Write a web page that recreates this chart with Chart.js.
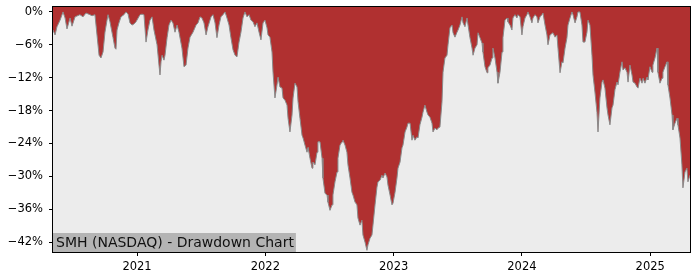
<!DOCTYPE html>
<html>
<head>
<meta charset="utf-8">
<script src="https://cdn.jsdelivr.net/npm/chart.js@4/dist/chart.umd.min.js"></script>
<style>
  html, body { margin: 0; padding: 0; background: #ffffff; }
  #wrap { width: 700px; height: 280px; }
</style>
</head>
<body>
<div id="wrap"><canvas id="ddChart" width="700" height="280"></canvas></div>
<script>
// drawdown series, date as decimal year, value in percent
const years = [
  2020.345, 2020.361, 2020.376, 2020.400, 2020.423, 2020.439, 2020.454, 2020.478, 2020.493, 2020.517,
  2020.555, 2020.579, 2020.602, 2020.633, 2020.649, 2020.672, 2020.688, 2020.704, 2020.719, 2020.735,
  2020.750, 2020.766, 2020.774, 2020.789, 2020.813, 2020.828, 2020.836, 2020.844, 2020.859, 2020.875,
  2020.898, 2020.914, 2020.930, 2020.945, 2020.961, 2020.976, 2020.992, 2021.023, 2021.039, 2021.054,
  2021.070, 2021.085, 2021.101, 2021.117, 2021.132, 2021.156, 2021.171, 2021.179, 2021.187, 2021.195,
  2021.210, 2021.218, 2021.234, 2021.249, 2021.265, 2021.280, 2021.296, 2021.312, 2021.327, 2021.350,
  2021.366, 2021.382, 2021.397, 2021.413, 2021.436, 2021.460, 2021.475, 2021.491, 2021.506, 2021.522,
  2021.538, 2021.553, 2021.577, 2021.592, 2021.608, 2021.623, 2021.639, 2021.654, 2021.670, 2021.686,
  2021.701, 2021.717, 2021.732, 2021.748, 2021.764, 2021.779, 2021.795, 2021.810, 2021.826, 2021.841,
  2021.857, 2021.873, 2021.888, 2021.904, 2021.919, 2021.935, 2021.951, 2021.966, 2021.982, 2021.997,
  2022.013, 2022.021, 2022.036, 2022.052, 2022.060, 2022.075, 2022.091, 2022.099, 2022.114, 2022.130,
  2022.138, 2022.153, 2022.169, 2022.177, 2022.192, 2022.208, 2022.216, 2022.231, 2022.247, 2022.255,
  2022.270, 2022.286, 2022.294, 2022.309, 2022.325, 2022.333, 2022.348, 2022.364, 2022.371, 2022.387,
  2022.403, 2022.410, 2022.426, 2022.442, 2022.449, 2022.465, 2022.481, 2022.488, 2022.504, 2022.520,
  2022.527, 2022.543, 2022.559, 2022.566, 2022.582, 2022.598, 2022.605, 2022.621, 2022.636, 2022.644,
  2022.660, 2022.675, 2022.683, 2022.699, 2022.714, 2022.722, 2022.738, 2022.753, 2022.761, 2022.777,
  2022.792, 2022.800, 2022.816, 2022.831, 2022.839, 2022.855, 2022.870, 2022.878, 2022.894, 2022.909,
  2022.917, 2022.933, 2022.948, 2022.956, 2022.972, 2022.987, 2022.995, 2023.011, 2023.026, 2023.034,
  2023.050, 2023.065, 2023.073, 2023.089, 2023.104, 2023.112, 2023.128, 2023.143, 2023.151, 2023.166,
  2023.182, 2023.190, 2023.205, 2023.221, 2023.229, 2023.244, 2023.260, 2023.268, 2023.283, 2023.299,
  2023.307, 2023.322, 2023.338, 2023.346, 2023.361, 2023.377, 2023.385, 2023.400, 2023.416, 2023.424,
  2023.439, 2023.455, 2023.463, 2023.478, 2023.494, 2023.502, 2023.517, 2023.533, 2023.541, 2023.556,
  2023.572, 2023.580, 2023.595, 2023.611, 2023.619, 2023.634, 2023.650, 2023.658, 2023.673, 2023.689,
  2023.696, 2023.712, 2023.728, 2023.735, 2023.751, 2023.767, 2023.774, 2023.790, 2023.806, 2023.813,
  2023.829, 2023.845, 2023.852, 2023.868, 2023.884, 2023.891, 2023.907, 2023.922, 2023.930, 2023.946,
  2023.961, 2023.969, 2023.985, 2024.000, 2024.008, 2024.024, 2024.039, 2024.047, 2024.063, 2024.078,
  2024.086, 2024.102, 2024.117, 2024.125, 2024.141, 2024.156, 2024.164, 2024.180, 2024.195, 2024.203,
  2024.219, 2024.242, 2024.258, 2024.273, 2024.281, 2024.297, 2024.312, 2024.320, 2024.336, 2024.351,
  2024.359, 2024.375, 2024.390, 2024.398, 2024.414, 2024.429, 2024.437, 2024.452, 2024.468, 2024.476,
  2024.491, 2024.507, 2024.515, 2024.530, 2024.546, 2024.554, 2024.569, 2024.585, 2024.593, 2024.608,
  2024.624, 2024.632, 2024.647, 2024.663, 2024.671, 2024.686, 2024.702, 2024.710, 2024.725, 2024.741,
  2024.749, 2024.764, 2024.780, 2024.788, 2024.803, 2024.819, 2024.827, 2024.842, 2024.858, 2024.866,
  2024.881, 2024.897, 2024.905, 2024.920, 2024.936, 2024.944, 2024.959, 2024.975, 2024.982, 2024.998,
  2025.014, 2025.021, 2025.037, 2025.053, 2025.060, 2025.076, 2025.092, 2025.099, 2025.115, 2025.131,
  2025.138, 2025.154, 2025.170, 2025.177, 2025.193, 2025.209, 2025.216, 2025.232, 2025.247, 2025.255,
  2025.271, 2025.286, 2025.294, 2025.310
];

const drawdown = [
  -3.3, -4.2, -2.7, -1.5, 0, -1.1, -3.1, -1.1, -2.6, -0.9,
  -0.5, -0.9, -0.2, -0.5, -0.7, -0.5, -4.2, -7.9, -8.4, -7.3,
  -3.7, -1.5, -0.5, -1.8, -4.7, -6.6, -6.8, -3.3, -2.0, -0.9,
  -0.5, 0, -0.4, -2.0, -2.4, -2.2, -1.8, -0.5, -0.4, -0.5,
  -5.5, -3.3, -1.5, -0.9, -3.3, -6.0, -9.7, -11.5, -9.1, -7.9,
  -8.8, -7.9, -4.7, -2.4, -1.5, -2.0, -3.7, -2.4, -3.7, -6.6,
  -10.0, -9.7, -6.6, -4.6, -3.7, -2.4, -2.0, -0.9, -1.1, -2.0,
  -4.2, -2.7, -0.9, -0.5, -2.0, -4.7, -2.4, -0.9, -0.5, 0,
  -1.1, -2.4, -4.7, -6.9, -7.9, -8.2, -5.5, -3.7, -1.1, 0,
  -0.9, -0.5, -1.5, -1.8, -2.7, -2.0, -3.7, -5.1, -2.0, -1.5,
  -2.9, -4.2, -4.6, -7.3, -11.0, -15.7, -13.3, -11.9, -13.7, -13.9,
  -15.7, -16.1, -17.0, -19.4, -21.9, -18.8, -15.7, -13.0, -13.7, -16.4,
  -19.4, -22.5, -23.0, -24.3, -25.6, -24.7, -26.7, -28.5, -27.4, -27.9,
  -25.6, -23.7, -23.7, -26.7, -30.3, -33.1, -33.4, -34.7, -36.2, -35.2,
  -33.4, -31.0, -29.2, -26.7, -24.3, -23.7, -23.4, -24.3, -25.6, -27.9,
  -30.3, -32.9, -33.4, -34.7, -35.2, -37.6, -38.9, -38.0, -40.7, -42.0,
  -43.5, -42.5, -41.3, -40.7, -38.9, -35.2, -32.0, -31.0, -30.7, -29.8,
  -30.3, -29.4, -30.1, -31.6, -33.4, -35.2, -34.9, -32.9, -30.3, -28.5,
  -27.4, -24.8, -24.3, -21.9, -21.0, -20.3, -20.3, -23.4, -22.5, -23.4,
  -22.8, -23.0, -20.6, -19.2, -18.3, -17.0, -18.3, -18.8, -19.2, -20.3,
  -21.9, -21.2, -21.5, -21.2, -21.0, -16.4, -11.0, -8.4, -7.9, -6.0,
  -2.9, -2.4, -3.8, -4.6, -3.7, -3.3, -2.4, -0.9, -2.0, -2.7,
  -1.1, -2.4, -4.7, -6.6, -7.9, -6.6, -6.0, -3.8, -4.7, -5.7,
  -7.3, -10.0, -11.1, -10.2, -9.7, -8.4, -6.6, -8.4, -11.0, -13.0,
  -11.0, -7.3, -4.7, -1.5, -1.1, -1.8, -2.4, -3.3, -1.1, -0.5,
  -1.1, -0.5, -0.9, -4.2, -2.7, -1.1, -0.5, 0, -0.9, -2.0,
  -1.1, -0.5, -0.9, -2.0, -0.9, -0.5, -0.2, -2.4, -4.2, -6.0,
  -4.2, -3.8, -4.6, -4.2, -6.6, -11.1, -9.1, -9.3, -6.6, -4.7,
  -2.4, -1.1, 0, -0.5, -2.0, -0.9, 0, 0, -2.4, -5.5,
  -5.5, -3.7, -1.5, -2.4, -7.9, -11.5, -14.6, -18.3, -21.9, -15.7,
  -12.8, -12.4, -13.9, -17.5, -18.8, -20.6, -17.5, -17.0, -14.2, -12.8,
  -13.3, -11.0, -9.1, -10.6, -10.2, -11.0, -12.8, -9.7, -11.5, -12.8,
  -13.0, -13.7, -13.9, -12.1, -13.0, -12.1, -13.0, -11.9, -12.4, -10.0,
  -11.0, -9.7, -8.4, -6.6, -11.0, -13.0, -12.1, -11.0, -10.0, -9.1,
  -13.3, -15.7, -18.8, -21.5, -20.3, -19.4, -20.6, -23.0, -27.9, -32.1,
  -29.2, -28.5, -31.0, -29.8
];

const xTickYears = [2021, 2022, 2023, 2024, 2025];
const yTickValues = [0, -6, -12, -18, -24, -30, -36, -42];
const chartLabel = 'SMH (NASDAQ) - Drawdown Chart';

const fillRed = '#b03030';
const plotBg = '#ececec';

// plot area placement, matched to the reference picture
const AREA = { left: 53, top: 7, right: 690, bottom: 252 };

const framePlugin = {
    id: 'frame',
    beforeDraw(chart) {
        const a = chart.chartArea;
        const c = chart.ctx;
        c.save();
        c.fillStyle = plotBg;
        c.fillRect(a.left, a.top, a.right - a.left, a.bottom - a.top);
        c.restore();
    },
    afterDraw(chart) {
        const a = chart.chartArea;
        const c = chart.ctx;
        c.save();
        // label box in the lower left corner
        c.font = '14px "DejaVu Sans"';
        const w = c.measureText(chartLabel).width;
        c.fillStyle = '#b4b4b4';
        c.fillRect(a.left, a.bottom - 19, w + 5, 19);
        c.fillStyle = '#111111';
        c.textBaseline = 'middle';
        c.fillText(chartLabel, a.left + 3, a.bottom - 9);
        // frame
        c.strokeStyle = '#000000';
        c.lineWidth = 1;
        c.strokeRect(a.left - 0.5, a.top - 0.5, a.right - a.left + 1, a.bottom - a.top + 1);
        c.restore();
    }
};

const points = years.map((yr, i) => ({ x: yr, y: drawdown[i] }));

new Chart(document.getElementById('ddChart'), {
    type: 'line',
    data: {
        datasets: [{
            data: points,
            borderColor: '#8a8a8a',
            borderWidth: 1,
            backgroundColor: fillRed,
            fill: 'end',
            pointRadius: 0,
            tension: 0
        }]
    },
    options: {
        responsive: false,
        animation: false,
        events: [],
        layout: { padding: 0 },
        plugins: {
            legend: { display: false },
            tooltip: { enabled: false },
            title: { display: false }
        },
        scales: {
            x: {
                type: 'linear',
                min: 2020.345,
                max: 2025.31,
                afterBuildTicks(scale) {
                    scale.ticks = xTickYears.map(v => ({ value: v }));
                },
                afterFit(scale) { scale.height = 280 - AREA.bottom; },
                grid: { display: true, drawOnChartArea: false, drawTicks: true, tickLength: 4, color: '#000000' },
                border: { display: false },
                ticks: {
                    color: '#000000',
                    font: { family: 'DejaVu Sans', size: 11.5 },
                    padding: 4,
                    maxRotation: 0,
                    callback: v => String(v)
                }
            },
            y: {
                min: -43.8,
                max: 0.9,
                afterBuildTicks(scale) {
                    scale.ticks = yTickValues.map(v => ({ value: v }));
                },
                afterFit(scale) { scale.width = AREA.left; },
                grid: { display: true, drawOnChartArea: false, drawTicks: true, tickLength: 4, color: '#000000' },
                border: { display: false },
                ticks: {
                    color: '#000000',
                    font: { family: 'DejaVu Sans', size: 11.5 },
                    padding: 6,
                    callback: v => (v < 0 ? '\u2212' + Math.abs(v) : String(v)) + '%'
                }
            }
        }
    },
    plugins: [framePlugin, {
        // pin the chart area to the reference position
        id: 'pinArea',
        afterLayout(chart) {
            const a = chart.chartArea;
            a.left = AREA.left; a.top = AREA.top; a.right = AREA.right; a.bottom = AREA.bottom;
            a.width = AREA.right - AREA.left; a.height = AREA.bottom - AREA.top;
            const xs = chart.scales.x, ys = chart.scales.y;
            xs.left = AREA.left; xs.right = AREA.right; xs.width = a.width;
            xs.top = AREA.bottom; xs.bottom = 280;
            ys.top = AREA.top; ys.bottom = AREA.bottom; ys.height = a.height;
            ys.left = 0; ys.right = AREA.left;
            xs.configure(); ys.configure();
        }
    }]
});
</script>
</body>
</html>
